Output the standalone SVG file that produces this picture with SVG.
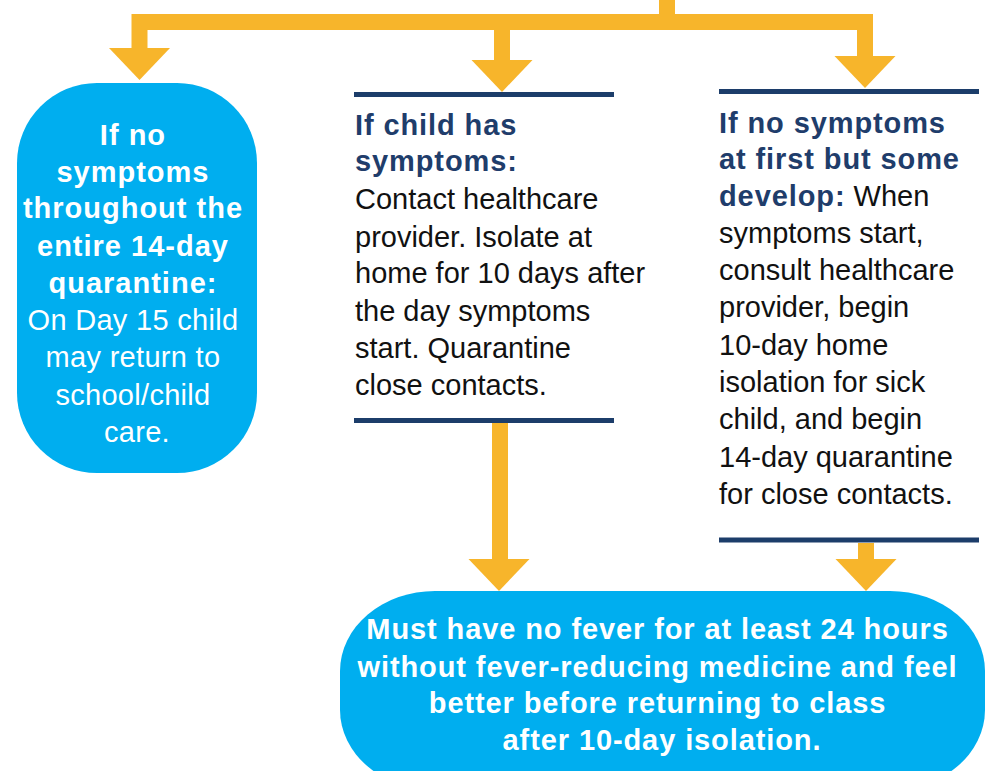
<svg xmlns="http://www.w3.org/2000/svg" xmlns:xlink="http://www.w3.org/1999/xlink" width="987" height="771" viewBox="0 0 987 771">
<style>
.conn{fill:none;stroke:#F7B52B;stroke-width:16;stroke-linejoin:miter;stroke-linecap:butt}
.head{fill:#F7B52B}
.blob{fill:#00AEEF}
.rule{stroke:#1C3D6A;stroke-width:5}
text{font-family:"Liberation Sans",Arial,sans-serif;font-size:29px}
.w{fill:#FFFFFF}
.b{font-weight:bold;letter-spacing:1px}
.r{letter-spacing:0.3px}
.hd{fill:#1F3D6B;font-weight:bold;letter-spacing:0.9px}
.k{fill:#111111}
.bot{font-weight:bold;letter-spacing:0.9px}
</style>
<defs>
<path id="ah" d="M-30.5,-32 L30.5,-32 L0,0 Z"/>
</defs>
<g id="connectors">
<path class="conn" d="M667,0 V22 H139.5 V49"/>
<path class="conn" d="M667,22 H865 V57"/>
<path class="conn" d="M502,22 V61"/>
<path class="conn" d="M500,423 V559"/>
<path class="conn" d="M866,543 V559"/>
<use class="head" xlink:href="#ah" x="139.5" y="80"/>
<use class="head" xlink:href="#ah" x="502" y="92"/>
<use class="head" xlink:href="#ah" x="865" y="88"/>
<use class="head" xlink:href="#ah" x="499" y="591"/>
<use class="head" xlink:href="#ah" x="866" y="591"/>
</g>
<g id="node-no-symptoms">
<rect class="blob" x="17" y="83" width="240" height="390" rx="80" ry="80"/>
<text class="w" text-anchor="middle">
<tspan class="b" x="137" y="145">If no</tspan>
<tspan class="b" x="137" y="182">symptoms</tspan>
<tspan class="b" x="137" y="218">throughout the</tspan>
<tspan class="b" x="137" y="256">entire 14-day</tspan>
<tspan class="b" x="137" y="293">quarantine:</tspan>
<tspan class="r" x="137" y="330">On Day 15 child</tspan>
<tspan class="r" x="137" y="367">may return to</tspan>
<tspan class="r" x="137" y="405">school/child</tspan>
<tspan class="r" x="137" y="442">care.</tspan>
</text>
</g>
<g id="node-has-symptoms">
<line class="rule" x1="354" y1="94.5" x2="614" y2="94.5"/>
<line class="rule" x1="354" y1="420.5" x2="614" y2="420.5"/>
<text>
<tspan class="hd" x="355" y="135">If child has</tspan>
<tspan class="hd" x="355" y="171">symptoms:</tspan>
<tspan class="k" x="355" y="209">Contact healthcare</tspan>
<tspan class="k" x="355" y="247">provider. Isolate at</tspan>
<tspan class="k" x="355" y="283">home for 10 days after</tspan>
<tspan class="k" x="355" y="321">the day symptoms</tspan>
<tspan class="k" x="355" y="358">start. Quarantine</tspan>
<tspan class="k" x="355" y="395">close contacts.</tspan>
</text>
</g>
<g id="node-develop">
<line class="rule" x1="719" y1="91.5" x2="979" y2="91.5"/>
<line class="rule" x1="719" y1="540" x2="979" y2="540"/>
<text>
<tspan class="hd" x="719" y="133">If no symptoms</tspan>
<tspan class="hd" x="719" y="169">at first but some</tspan>
<tspan class="hd" x="719" y="206">develop:</tspan><tspan class="k"> When</tspan>
<tspan class="k" x="719" y="243">symptoms start,</tspan>
<tspan class="k" x="719" y="280">consult healthcare</tspan>
<tspan class="k" x="719" y="317">provider, begin</tspan>
<tspan class="k" x="719" y="355">10-day home</tspan>
<tspan class="k" x="719" y="392">isolation for sick</tspan>
<tspan class="k" x="719" y="429">child, and begin</tspan>
<tspan class="k" x="719" y="467">14-day quarantine</tspan>
<tspan class="k" x="719" y="504">for close contacts.</tspan>
</text>
</g>
<g id="node-return">
<rect class="blob" x="340" y="591" width="645" height="199" rx="95" ry="80"/>
<text class="w bot" text-anchor="middle">
<tspan x="662" y="639">Must have no fever for at least 24 hours</tspan>
<tspan x="662" y="677">without fever-reducing medicine and feel</tspan>
<tspan x="662" y="713">better before returning to class</tspan>
<tspan x="662" y="750">after 10-day isolation.</tspan>
</text>
</g>
</svg>
